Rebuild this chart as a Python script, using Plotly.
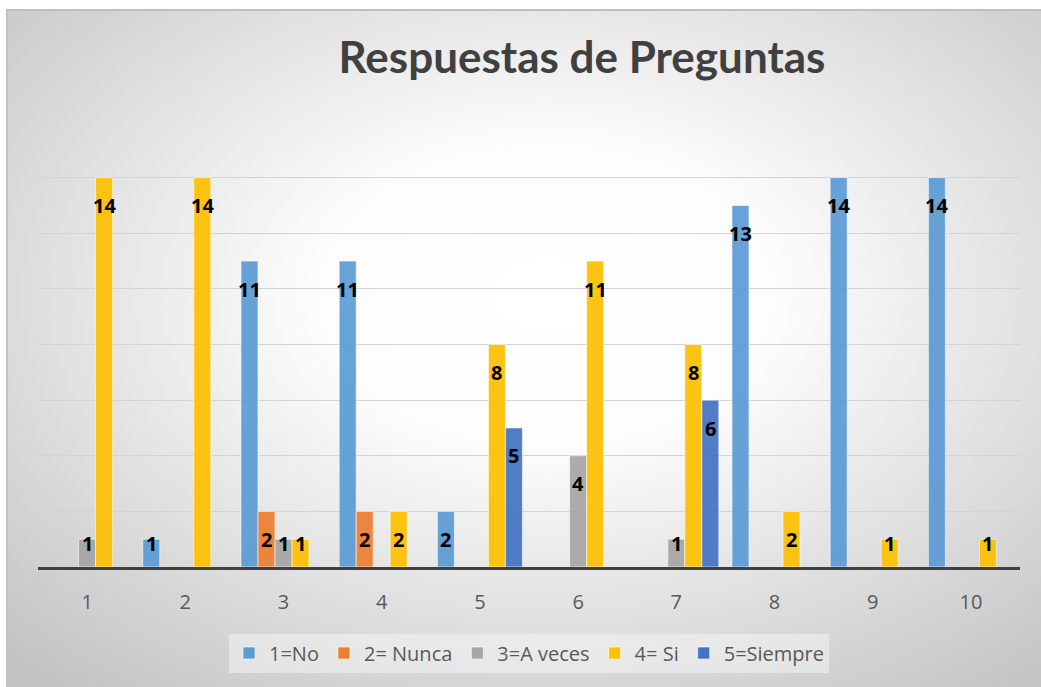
import base64

import plotly.graph_objects as go

categorias = ["1", "2", "3", "4", "5", "6", "7", "8", "9", "10"]

series = ["1=No", "2= Nunca", "3=A veces", "4= Si", "5=Siempre"]
no = [None, 1, 11, 11, 2, None, None, 13, 14, 14]
nunca = [None, None, 2, 2, None, None, None, None, None, None]
a_veces = [1, None, 1, None, None, 4, 1, None, None, None]
si = [14, 14, 1, 2, 8, 11, 8, 2, 1, 1]
siempre = [None, None, None, None, 5, None, 6, None, None, None]

colores = ["#5b9bd5", "#ed7d31", "#a5a5a5", "#ffc000", "#4472c4"]

# geometria del lienzo (px)
ANCHO, ALTO = 1041, 687
M_IZQ, M_DER, M_SUP, M_INF = 38, 21, 122, 120
Y_MAX = 16
BARGAP = 0.134

plot_w = ANCHO - M_IZQ - M_DER
plot_h = ALTO - M_SUP - M_INF
px_unidad = plot_h / Y_MAX
ancho_barra = plot_w / len(categorias) * (1 - BARGAP) / len(series)

fig = go.Figure()
valores = [no, nunca, a_veces, si, siempre]
for i, (nombre, vals, color) in enumerate(zip(series, valores, colores)):
    fig.add_trace(go.Bar(
        name=nombre,
        x=categorias,
        y=vals,
        marker=dict(color=color, opacity=0.92, line=dict(color="rgba(255,255,255,0.6)", width=1)),
        hoverinfo="x+y+name",
    ))
    # etiquetas tipo "extremo interno" de Excel (x por indice de categoria)
    for j, v in enumerate(vals):
        if v is None:
            continue
        fig.add_annotation(
            x=j, y=v, text=str(v), showarrow=False,
            xshift=(i - 2) * ancho_barra,
            yshift=-min(28, v * px_unidad - 24),
            yanchor="middle",
            font=dict(family="Open Sans", size=20, color="black", weight="bold"),
        )

# fondo con degradado radial (gris en bordes, blanco al centro)
svg = (
    '<svg xmlns="http://www.w3.org/2000/svg" width="1034" height="677" '
    'viewBox="0 0 1034 677" preserveAspectRatio="none"><defs>'
    '<radialGradient id="g" cx="0.5" cy="0.4" r="0.72">'
    '<stop offset="0" stop-color="#ffffff"/>'
    '<stop offset="0.3" stop-color="#fcfcfc"/>'
    '<stop offset="1" stop-color="#c2c2c2"/>'
    '</radialGradient></defs>'
    '<rect width="1034" height="677" fill="url(#g)"/></svg>'
)
fuente = "data:image/svg+xml;base64," + base64.b64encode(svg.encode()).decode()

x_borde = (7 - M_IZQ) / plot_w
y_borde = (ALTO - M_INF - 10) / plot_h

fig.add_layout_image(
    source=fuente, xref="paper", yref="paper",
    x=x_borde, y=y_borde, sizex=1.1, sizey=1.6,
    xanchor="left", yanchor="top", sizing="stretch", layer="below",
)
fig.add_shape(
    type="rect", xref="paper", yref="paper",
    x0=x_borde, x1=1.2, y0=-0.6, y1=y_borde,
    line=dict(color="#bfbfbf", width=2), layer="below",
)

fig.update_layout(
    width=ANCHO, height=ALTO,
    margin=dict(l=M_IZQ, r=M_DER, t=M_SUP, b=M_INF),
    paper_bgcolor="white",
    plot_bgcolor="rgba(0,0,0,0)",
    barmode="group", bargap=BARGAP, bargroupgap=0,
    font=dict(family="Open Sans", color="#595959"),
    title=dict(
        text="<b>Respuestas de Preguntas</b>",
        xref="paper", x=(582 - M_IZQ) / plot_w, xanchor="center",
        yref="container", y=1 - 58 / ALTO, yanchor="middle",
        font=dict(family="Lato", size=44, color="#404040"),
    ),
    xaxis=dict(
        type="category", showgrid=False,
        showline=True, linecolor="#404040", linewidth=3,
        tickfont=dict(size=20, color="#595959"),
        ticklabelstandoff=15,
    ),
    yaxis=dict(
        range=[0, Y_MAX], dtick=2, showticklabels=False,
        gridcolor="#d3d3d3", gridwidth=1, zeroline=False,
    ),
    legend=dict(
        orientation="h", x=0.5, xanchor="center",
        y=(567 - 653) / plot_h, yanchor="middle",
        bgcolor="rgba(255,255,255,0.4)",
        font=dict(size=20, color="#595959"),
    ),
    showlegend=True,
)

fig.write_html(
    "out.html",
    config={"displayModeBar": False},
    post_script="document.body.style.margin='0';",
)
